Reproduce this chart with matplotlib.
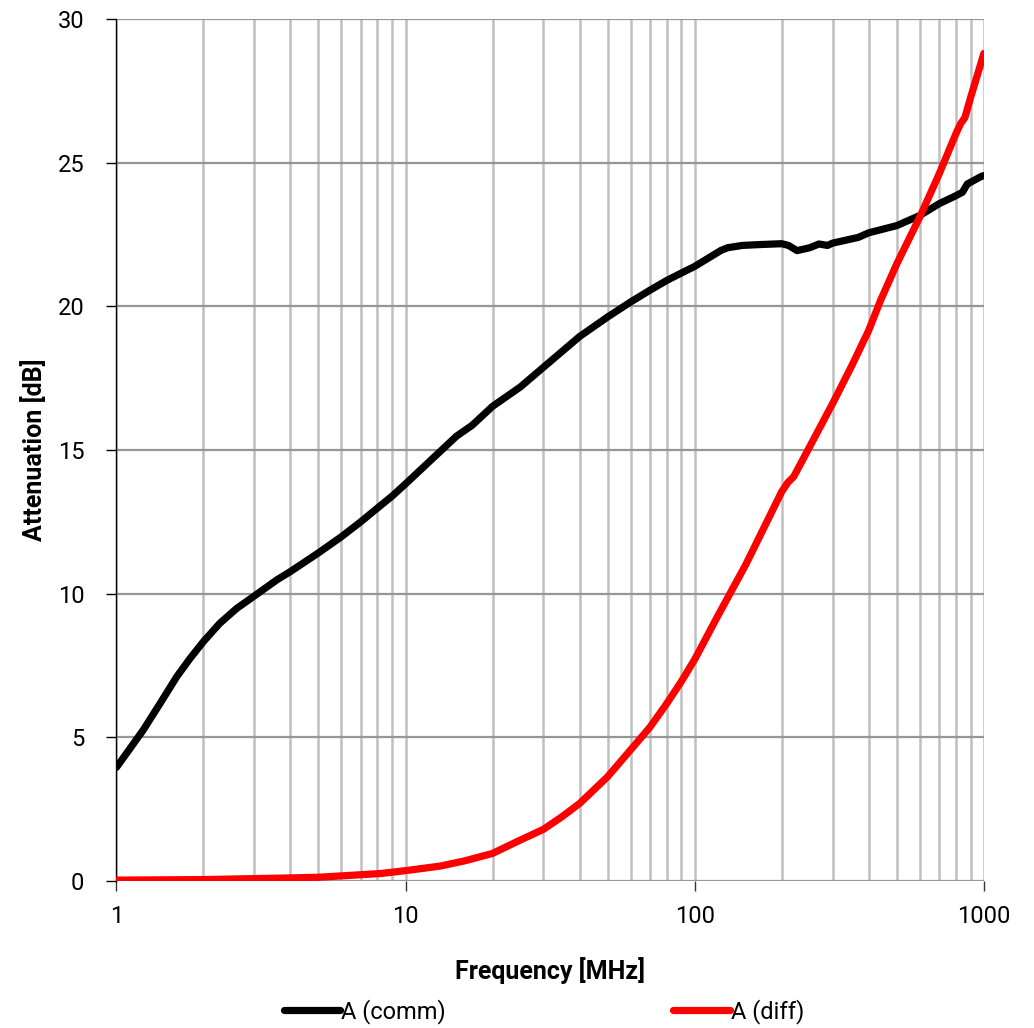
import matplotlib.pyplot as plt

# Common mode attenuation
comm_f = [1, 1.117, 1.24, 1.417, 1.618, 1.8, 2, 2.28, 2.61, 3, 3.59, 4, 5, 6,
          7, 8, 9, 10, 15, 17, 20, 25, 30, 40, 50, 60, 70, 80, 90, 100, 123,
          130, 146, 168, 200, 211, 226, 250, 269, 288, 300, 368, 400, 500, 600,
          700, 800, 843, 877, 900, 979, 1000]
comm_a = [3.95, 4.62, 5.26, 6.18, 7.11, 7.75, 8.33, 8.97, 9.49, 9.92, 10.48,
          10.77, 11.42, 11.98, 12.5, 12.98, 13.4, 13.82, 15.48, 15.86, 16.52,
          17.2, 17.88, 18.95, 19.63, 20.15, 20.56, 20.9, 21.16, 21.39, 21.94,
          22.04, 22.12, 22.15, 22.18, 22.12, 21.94, 22.04, 22.17, 22.12, 22.2,
          22.4, 22.56, 22.81, 23.16, 23.57, 23.85, 23.97, 24.26, 24.32, 24.52,
          24.55]

# Differential mode attenuation
diff_f = [1, 2, 3.7, 5, 8.2, 10, 13.2, 16, 20, 24.3, 30, 34.8, 40, 44.8, 50,
          60, 70, 80, 90, 100, 120, 150, 200, 210, 220, 250, 300, 350, 400,
          439, 500, 600, 700, 800, 830, 860, 900, 1000]
diff_a = [0.03, 0.05, 0.1, 0.13, 0.26, 0.36, 0.52, 0.7, 0.96, 1.37, 1.8, 2.24,
          2.7, 3.17, 3.63, 4.56, 5.35, 6.17, 6.95, 7.71, 9.21, 11.0, 13.55,
          13.87, 14.07, 15.12, 16.62, 17.95, 19.17, 20.2, 21.48, 23.1,
          24.6, 26.0, 26.35, 26.57, 27.27, 28.8]

x_ticks = [1, 10, 100, 1000]
y_ticks = [0, 5, 10, 15, 20, 25, 30]

plt.rcParams['font.family'] = ['Roboto', 'DejaVu Sans']

fig = plt.figure(figsize=(10.34, 10.28), dpi=100)
ax = fig.add_axes([0.1125, 0.143, 0.839, 0.8385])

ax.plot(comm_f, comm_a, color='black', lw=5.2, label='A (comm)',
        solid_capstyle='round', solid_joinstyle='round', zorder=4)
ax.plot(diff_f, diff_a, color='#ff0000', lw=5.2, label='A (diff)',
        solid_capstyle='round', solid_joinstyle='round', zorder=5)

ax.set_xscale('log')
ax.set_xlim(1, 1000)
ax.set_ylim(0, 30)
ax.set_xticks(x_ticks)
ax.set_xticklabels([str(t) for t in x_ticks])
ax.set_yticks(y_ticks)

# grid: light verticals (major + minor), darker horizontals
ax.grid(axis='x', which='both', color='#c0c0c0', lw=1.8, zorder=1)
ax.grid(axis='y', which='major', color='#969696', lw=1.6, zorder=1)
ax.tick_params(axis='x', which='minor', length=0)
ax.tick_params(axis='x', which='major', length=7, width=1, color='#333333',
               labelsize=17, pad=10)
ax.tick_params(axis='y', length=7, width=1, labelsize=17, pad=16)

for side in ['top', 'right', 'bottom']:
    ax.spines[side].set_visible(False)
ax.spines['left'].set_linewidth(1)
ax.set_axisbelow(True)

ax.set_xlabel('Frequency [MHz]', fontsize=18, fontweight='bold', labelpad=21)
ax.set_ylabel('Attenuation [dB]', fontsize=18, fontweight='bold', labelpad=8)

fig.legend(loc='center', bbox_to_anchor=(0.526, 0.016), ncol=2, frameon=False,
           fontsize=17, handlelength=2.4, handletextpad=0.05,
           columnspacing=9.6)

fig.savefig('out.png', dpi=100)
